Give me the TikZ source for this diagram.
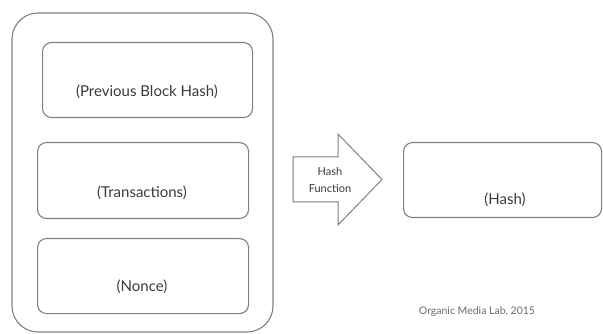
\documentclass[tikz,border=0pt]{standalone}
\usepackage{fontspec}
\setmainfont{Lato}
\definecolor{linegray}{HTML}{808080}
\definecolor{textgray}{HTML}{3A3A3A}
\definecolor{creditgray}{HTML}{6A6A6A}
\begin{document}
\begin{tikzpicture}[x=1pt,y=-1pt,
  frame/.style={draw=linegray, line width=1.1pt, rounded corners=#1},
  field/.style={frame=9, anchor=north west, inner sep=0pt},
  lbl/.style={text=textgray, inner sep=0pt, font=\fontsize{15}{18}\selectfont},
  small/.style={text=textgray, inner sep=0pt, align=center, font=\fontsize{11}{17}\selectfont}]
\useasboundingbox (0,0) rectangle (603,334);

% block container
\draw[frame=26] (12,13) rectangle (273,332);

% header fields
\node[field, minimum width=210, minimum height=75] (prevbox) at (42,42) {};
\node[lbl] (prev) at (147,92) {(Previous Block Hash)};
\node[field, minimum width=211, minimum height=76] (txbox) at (37,142) {};
\node[lbl] (tx) at (142,193) {(Transactions)};
\node[field, minimum width=211, minimum height=75] (noncebox) at (37,238) {};
\node[lbl] (nonce) at (142,287) {(Nonce)};

% hash function arrow
\draw[draw=linegray, line width=1pt, fill=white, line join=miter]
  (293,157) -- (338,157) -- (338,134) -- (382,179.5) -- (338,225)
  -- (338,202) -- (293,202) -- cycle;
\node[small] (fn) at (330,180) {Hash\\Function};

% resulting hash
\node[field, minimum width=198, minimum height=75] (hashbox) at (403,142) {};
\node[lbl] (hash) at (505,200) {(Hash)};

% credit line
\node[text=creditgray, inner sep=0pt, font=\fontsize{10.5}{12}\selectfont] (credit) at (477,312) {Organic Media Lab, 2015};
\end{tikzpicture}
\end{document}
